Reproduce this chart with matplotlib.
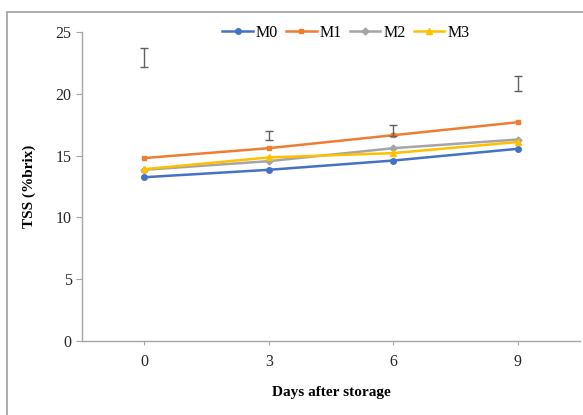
import matplotlib.pyplot as plt
import numpy as np
from matplotlib.patches import Rectangle

days = ['0', '3', '6', '9']
m0 = [13.25, 13.85, 14.6, 15.55]
m1 = [14.8, 15.6, 16.65, 17.7]
m2 = [13.85, 14.55, 15.6, 16.3]
m3 = [13.9, 14.85, 15.2, 16.1]
err_center = [22.95, 16.65, 17.05, 20.85]
err_half = [0.75, 0.38, 0.43, 0.62]

plt.rcParams['font.family'] = ['Liberation Serif', 'DejaVu Serif']

fig = plt.figure(figsize=(5.83, 4.15), dpi=100)
# outer frame, right and bottom edges fall outside the image
fig.patches.append(Rectangle((7/583, -0.2), 1.2, 1.2 - 11.5/415, transform=fig.transFigure,
                             fill=False, edgecolor='#A0A0A0', linewidth=1.2))

axes = fig.add_axes([82/583, 1 - 341/415, 498/583, (341 - 32)/415])
x = np.arange(len(days))

axes.plot(x, m0, color='#4472C4', lw=1.8, marker='o', markersize=4, label='M0')
axes.plot(x, m1, color='#ED7D31', lw=1.8, marker='s', markersize=3.5, label='M1')
axes.plot(x, m2, color='#A5A5A5', lw=1.8, marker='D', markersize=3.5, label='M2')
axes.plot(x, m3, color='#FFC000', lw=1.8, marker='^', markersize=4.5, label='M3')

axes.errorbar(x, err_center, yerr=err_half, fmt='none', ecolor='#606060',
              elinewidth=1.0, capsize=3, capthick=1.0)

axes.set_xlim(-0.5, 3.5)
axes.set_ylim(0, 25)
axes.set_yticks(np.arange(0, 26, 5))
axes.set_xticks(x)
axes.set_xticklabels(days)
for s in ['top', 'right']:
    axes.spines[s].set_visible(False)
for s in ['left', 'bottom']:
    axes.spines[s].set_color('#A6A6A6')
    axes.spines[s].set_linewidth(1.0)
axes.tick_params(axis='both', colors='#A6A6A6', labelcolor='#262626', labelsize=11.5, length=4)
axes.tick_params(axis='x', pad=6, length=3)

axes.set_xlabel('Days after storage', fontsize=11, fontweight='bold', labelpad=12)
axes.set_ylabel('TSS (%brix)', fontsize=11, fontweight='bold', labelpad=14)

axes.legend(loc='upper center', bbox_to_anchor=(0.53, 1.07), ncol=4, frameon=False,
            fontsize=11.5, handlelength=1.9, columnspacing=0.5, handletextpad=0.2)

plt.savefig('out.png', dpi=100)
